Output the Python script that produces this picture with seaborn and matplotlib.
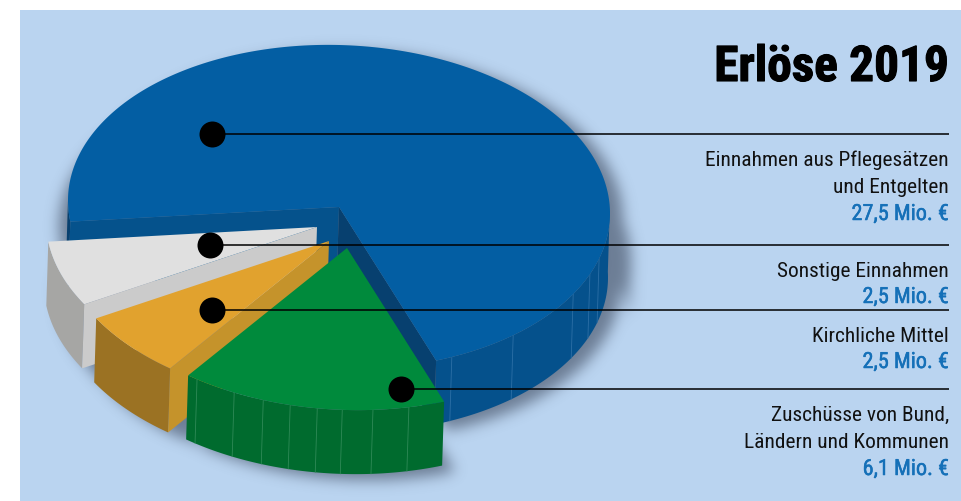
import numpy as np
import pandas as pd
import matplotlib
matplotlib.use("Agg")
import matplotlib.pyplot as plt
import matplotlib.patheffects as pe
from matplotlib.path import Path
from matplotlib.patches import Rectangle
import seaborn as sns

# Revenue per source in million euros
SOURCES = ["Einnahmen aus Pflegesätzen", "Sonstige Einnahmen", "Kirchliche Mittel",
           "Zuschüsse von Bund, Ländern und Kommunen"]
REVENUE = [27.5, 2.5, 2.5, 6.1]
LABEL_LINES = [["Einnahmen aus Pflegesätzen", "und Entgelten"],
               ["Sonstige Einnahmen"],
               ["Kirchliche Mittel"],
               ["Zuschüsse von Bund,", "Ländern und Kommunen"]]
TITLE = "Erlöse 2019"

# Pie geometry in figure pixels
W, H = 961, 502
RX, RY, TILT = 271.0, 162.0, 0.024
DEPTH, DEPTH_DX = 64.0, -2.0
START_ANGLE = 291.0
CENTERS = [(339, 208), (317, 228), (329, 242), (347, 249)]

# top face, outer wall, cut wall
FACE = ["#035EA3", "#E0E0E0", "#E1A22E", "#008A3C"]
WALL = ["#05518C", "#A6A6A4", "#9B7223", "#006B2E"]
CUT = ["#05528C", "#CBCBCB", "#C5932B", None]
INNER_CUT = "#07406F"
BACKGROUND = "#BAD4F0"
VALUE_BLUE = "#1570B8"

# Seams on the outer walls, as pie angles
GREEN_SEAMS = [236.4, 245.4, 252.0, 257.9, 263.7, 269.0, 275.5, 283.2]
BLUE_SEAMS = [294.6, 310.0, 329.8, 337.8, 343.7]

# Call-out dots and the rows of the text column
DOT_X = [212, 210, 212, 401]
DOT_Y = [135, 245.5, 310.5, 389.5]
LINE_END = 949
TEXT_BASELINES = [[166, 193, 221], [277, 304], [342, 369], [421, 448, 476]]

sns.set_theme(style="white")
plt.rcParams["font.family"] = ["Roboto Condensed", "Liberation Sans", "DejaVu Sans"]

fig = plt.figure(figsize=(W / 100, H / 100), dpi=100, facecolor="white")
ax = fig.add_axes([0, 0, 1, 1])
ax.set_xlim(0, W)
ax.set_ylim(H, 0)
ax.axis("off")
ax.add_patch(Rectangle((20, 11), W - 20, H - 11, facecolor=BACKGROUND, edgecolor="none", zorder=0))


def rim(center, theta):
    theta = np.radians(np.atleast_1d(theta))
    x = center[0] + RX * np.cos(theta)
    y = center[1] - RY * np.sin(theta) + TILT * (x - center[0])
    return x, y


def arc(center, a0, a1):
    return rim(center, np.linspace(a0, a1, max(int(abs(a1 - a0)) * 2, 2)))


def wall_polygon(center, a0, a1):
    x, y = arc(center, a0, a1)
    return np.r_[x, x[::-1] + DEPTH_DX], np.r_[y, y[::-1] + DEPTH]


def cut_polygon(center, angle):
    x, y = rim(center, angle)
    px = [center[0], x[0], x[0] + DEPTH_DX, center[0] + DEPTH_DX]
    py = [center[1], y[0], y[0] + DEPTH, center[1] + DEPTH]
    return px, py


# Angular extents follow directly from the values
sweeps = np.array(REVENUE) / np.sum(REVENUE) * 360
starts = START_ANGLE + np.r_[0, np.cumsum(sweeps)[:-1]]
ends = starts + sweeps

# Soft drop shadow from the silhouette of all slices
gx, gy = np.meshgrid(np.arange(W) + 0.5, np.arange(H) + 0.5)
pts = np.c_[gx.ravel(), gy.ravel()]
mask = np.zeros(W * H, dtype=bool)
SHADOW_DX, SHADOW_DY = 13, 6
for c, a0, a1 in zip(CENTERS, starts, ends):
    wx, wy = arc(c, a0, a1)
    fx = np.r_[c[0], wx]
    fy = np.r_[c[1], wy]
    for dx, dy in [(0, 0), (DEPTH_DX, DEPTH)]:
        mask |= Path(np.c_[fx + dx + SHADOW_DX, fy + dy + SHADOW_DY]).contains_points(pts)
    lo, hi = (a0, 360) if a1 > 360 else (a0, a1)
    sx, sy = wall_polygon(c, lo, hi)
    mask |= Path(np.c_[sx + SHADOW_DX, sy + SHADOW_DY]).contains_points(pts)
mask = mask.reshape(H, W).astype(float)
kx = np.arange(-21, 22)
kernel = np.exp(-kx ** 2 / (2 * 7.0 ** 2))
kernel /= kernel.sum()
blur = np.apply_along_axis(lambda r: np.convolve(r, kernel, mode="same"), 1, mask)
blur = np.apply_along_axis(lambda r: np.convolve(r, kernel, mode="same"), 0, blur)
shadow = np.zeros((H, W, 4))
shadow[..., :3] = np.array([45, 55, 75]) / 255
shadow[..., 3] = 0.55 * blur
ax.imshow(shadow, extent=(0, W, H, 0), zorder=1, interpolation="bilinear", aspect="auto")
ax.set_xlim(0, W)
ax.set_ylim(H, 0)

# Large slice: outer wall, the two cut walls, then the top face
c = CENTERS[0]
ax.fill(*wall_polygon(c, START_ANGLE, 362), color=WALL[0], lw=0, zorder=2)
ax.fill(*wall_polygon(c, 178, ends[0] - 360), color=INNER_CUT, lw=0, zorder=2)
ax.fill(*cut_polygon(c, START_ANGLE), color=INNER_CUT, lw=0, zorder=2.2)
ax.fill(*cut_polygon(c, ends[0]), color=CUT[0], lw=0, zorder=2.1)
for a in BLUE_SEAMS:
    x, y = rim(c, a)
    ax.plot([x[0], x[0] + DEPTH_DX], [y[0], y[0] + DEPTH], color="#2C6FA6", lw=0.6, zorder=2.3)
wx, wy = arc(c, starts[0], ends[0])
ax.fill(np.r_[c[0], wx], np.r_[c[1], wy], color=FACE[0], lw=0, zorder=3)

# Exploded slices, back to front
for i in (1, 2, 3):
    c = CENTERS[i]
    z = 3 + i
    ax.fill(*wall_polygon(c, starts[i], ends[i]), color=WALL[i], lw=0, zorder=z)
    if CUT[i] is not None:
        ax.fill(*cut_polygon(c, ends[i]), color=CUT[i], lw=0, zorder=z + 0.1)
    wx, wy = arc(c, starts[i], ends[i])
    ax.fill(np.r_[c[0], wx], np.r_[c[1], wy], color=FACE[i], lw=0, zorder=z + 0.2)

for a in GREEN_SEAMS:
    x, y = rim(CENTERS[3], a)
    ax.plot([x[0], x[0] + DEPTH_DX], [y[0], y[0] + DEPTH], color="#2F8A57", lw=0.6, zorder=6.1)

# Leader lines and dots
for x0, y0 in zip(DOT_X, DOT_Y):
    ax.plot([x0, LINE_END], [y0, y0], color="black", lw=1.1, zorder=8, solid_capstyle="butt")
dots = pd.DataFrame({"x": DOT_X, "y": DOT_Y})
sns.scatterplot(data=dots, x="x", y="y", color="black", s=350, linewidth=0, ax=ax, zorder=9, legend=False)
ax.set_xlim(0, W)
ax.set_ylim(H, 0)
ax.axis("off")

# Text column
ax.text(LINE_END, 82, TITLE, ha="right", va="baseline", fontsize=35.5, fontweight="bold",
        color="black", zorder=10, path_effects=[pe.withStroke(linewidth=0.8, foreground="black")])
for lines, value, rows in zip(LABEL_LINES, REVENUE, TEXT_BASELINES):
    for text, row in zip(lines, rows):
        ax.text(LINE_END, row, text, ha="right", va="baseline", fontsize=15.4, color="#111111", zorder=10)
    label = f"{value:.1f}".replace(".", ",") + " Mio. €"
    ax.text(LINE_END, rows[-1], label, ha="right", va="baseline", fontsize=16, color=VALUE_BLUE,
            zorder=10, path_effects=[pe.withStroke(linewidth=0.35, foreground=VALUE_BLUE)])

fig.savefig("out.png", dpi=100, facecolor="white")
